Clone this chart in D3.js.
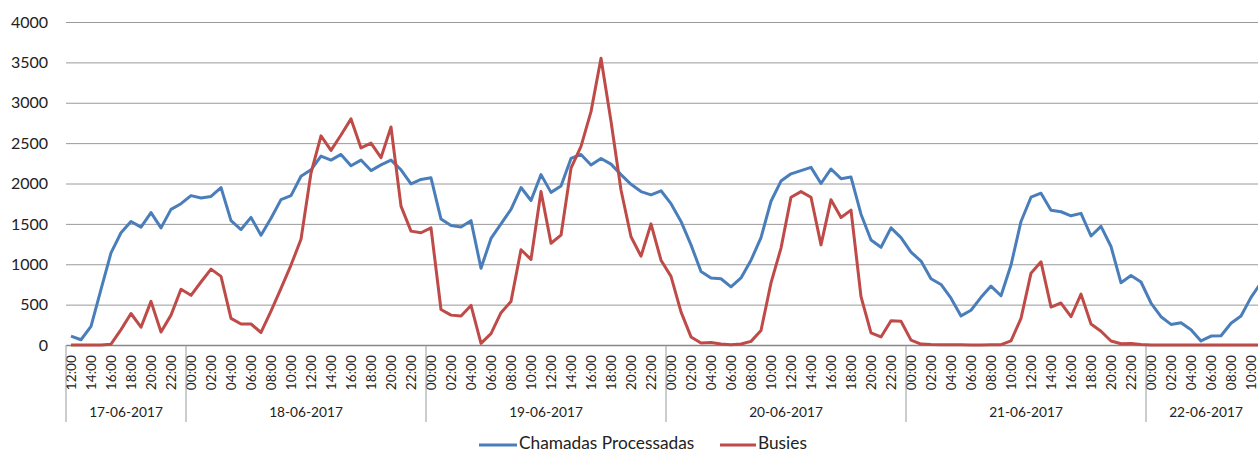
<!DOCTYPE html>
<html>
<head>
<meta charset="utf-8">
<script src="https://cdn.jsdelivr.net/npm/d3@7"></script>
<style>
  body { margin: 0; overflow: hidden; background: #fff; }
  text { font-family: Lato, "Open Sans", sans-serif; fill: #222; }
</style>
</head>
<body>
<div id="chart"></div>
<script>
// days on the lower axis level and how many hours each one holds
const days = ["17-06-2017", "18-06-2017", "19-06-2017", "20-06-2017", "21-06-2017", "22-06-2017"];
const dayStartHour = [12, 0, 0, 0, 0, 0];
const dayHours = [12, 24, 24, 24, 24, 12];

const yTicks = [0, 500, 1000, 1500, 2000, 2500, 3000, 3500, 4000];

const seriesNames = ["Chamadas Processadas", "Busies"];
const seriesColors = ["#4a7ebb", "#be4b48"];

// hourly values, 17-06 12:00 .. 22-06 11:00
const chamadas = [
  110, 65, 230, 690, 1140, 1390, 1530, 1460, 1640, 1450, 1680, 1750,
  1850, 1820, 1840, 1950, 1540, 1430, 1580, 1360, 1570, 1800, 1850, 2090,
  2170, 2340, 2290, 2360, 2220, 2290, 2160, 2230, 2290, 2170, 1995, 2050,
  2070, 1560, 1480, 1460, 1540, 950, 1320, 1500, 1680, 1950, 1790, 2110,
  1890, 1970, 2310, 2360, 2230, 2310, 2240, 2110, 1990, 1900, 1860, 1910,
  1750, 1530, 1240, 910, 830, 820, 720, 830, 1050, 1330, 1780, 2030,
  2120, 2160, 2200, 2000, 2180, 2060, 2080, 1620, 1300, 1210, 1450, 1330,
  1150, 1040, 820, 750, 580, 360, 430, 590, 730, 610, 990, 1530,
  1830, 1880, 1670, 1650, 1600, 1630, 1350, 1470, 1220, 770, 860, 780,
  520, 350, 255, 275, 190, 50, 110, 115, 270, 360, 590, 770
];
const busies = [
  0, 0, 0, 0, 10, 190, 390, 220, 540, 160, 370, 690,
  615, 780, 940, 850, 330, 260, 260, 155, 420, 700, 990, 1310,
  2130, 2590, 2410, 2600, 2800, 2440, 2500, 2320, 2700, 1720, 1410, 1390,
  1450, 440, 370, 360, 490, 20, 140, 400, 540, 1180, 1060, 1900,
  1260, 1360, 2190, 2460, 2890, 3550, 2770, 1920, 1340, 1100, 1500, 1050,
  850, 410, 100, 25, 30, 12, 4, 12, 45, 180, 770, 1200,
  1830, 1900, 1830, 1240, 1800, 1580, 1670, 600, 150, 100, 300, 295,
  60, 12, 5, 3, 2, 2, 1, 1, 2, 4, 50, 330,
  890, 1030, 470, 520, 350, 630, 260, 170, 50, 15, 20, 5,
  0, 0, 0, 0, 0, 0, 0, 0, 0, 0, 0, 0
];

// build the hourly categories from the day list
const cats = [];
days.forEach((d, di) => {
  for (let h = 0; h < dayHours[di]; h++) {
    const hr = dayStartHour[di] + h;
    cats.push({ day: d, label: (hr < 10 ? "0" : "") + hr + ":00", hour: hr });
  }
});

const width = 1280, height = 454;
const margin = { left: 66, top: 22, bottom: 109 };
const plotW = cats.length * 10;

const svg = d3.select("#chart").append("svg")
    .attr("width", width)
    .attr("height", height);

const x = d3.scaleBand()
    .domain(d3.range(cats.length))
    .range([margin.left, margin.left + plotW]);

const y = d3.scaleLinear()
    .domain([0, 4000])
    .range([height - margin.bottom, margin.top]);

// gridlines + y labels
const yAxis = svg.append("g")
    .attr("transform", "translate(" + margin.left + ",0)")
    .call(d3.axisLeft(y).tickValues(yTicks).tickSize(-plotW).tickPadding(18).tickFormat(d3.format("d")));
yAxis.select(".domain").remove();
yAxis.selectAll("line").attr("stroke", "#9a9a9a").attr("stroke-width", 1);
yAxis.selectAll("text").style("font-size", "16px").attr("fill", "#222");

// hour labels
const y0 = y(0);
const xAxis = svg.append("g")
    .attr("transform", "translate(0," + y0 + ")")
    .call(d3.axisBottom(x)
      .tickValues(d3.range(cats.length).filter(i => cats[i].hour % 2 === 0))
      .tickSize(0)
      .tickFormat(i => cats[i].label));
xAxis.select(".domain").attr("stroke", "#868686").attr("stroke-width", 1.5);
xAxis.selectAll("text")
    .style("font-size", "13.7px")
    .attr("fill", "#222")
    .attr("text-anchor", "end")
    .attr("transform", "rotate(-90)")
    .attr("x", -10)
    .attr("y", 0)
    .attr("dy", "0.35em");

// day separators and day labels
let start = 0;
const bounds = [0];
dayHours.forEach(n => { start += n; bounds.push(start); });
const xEdge = i => margin.left + i * x.bandwidth();

svg.append("g").selectAll("line")
    .data(bounds)
    .enter().append("line")
    .attr("x1", d => xEdge(d)).attr("x2", d => xEdge(d))
    .attr("y1", y0).attr("y2", y0 + 77)
    .attr("stroke", "#9a9a9a").attr("stroke-width", 1);

svg.append("g").selectAll("text")
    .data(days)
    .enter().append("text")
    .attr("x", (d, i) => (xEdge(bounds[i]) + xEdge(bounds[i + 1])) / 2)
    .attr("y", y0 + 72)
    .attr("text-anchor", "middle")
    .style("font-size", "13.7px")
    .text(d => d);

// lines
const line = d3.line()
    .x((d, i) => x(i) + x.bandwidth() / 2)
    .y(d => y(d));

[chamadas, busies].forEach((s, k) => {
  svg.append("path")
      .datum(s)
      .attr("fill", "none")
      .attr("stroke", seriesColors[k])
      .attr("stroke-width", 3)
      .attr("stroke-linejoin", "round")
      .attr("d", line);
});

// legend
const legendX = [479, 720];
const legend = svg.append("g").selectAll("g")
    .data(seriesNames)
    .enter().append("g")
    .attr("transform", (d, i) => "translate(" + legendX[i] + ",443)");
legend.append("line")
    .attr("x1", 0).attr("x2", (d, i) => i === 0 ? 38 : 36)
    .attr("y1", 2).attr("y2", 2)
    .attr("stroke", (d, i) => seriesColors[i])
    .attr("stroke-width", 3);
legend.append("text")
    .attr("x", (d, i) => i === 0 ? 40 : 38)
    .attr("dy", "0.35em")
    .style("font-size", "17.3px")
    .text(d => d);
</script>
</body>
</html>
